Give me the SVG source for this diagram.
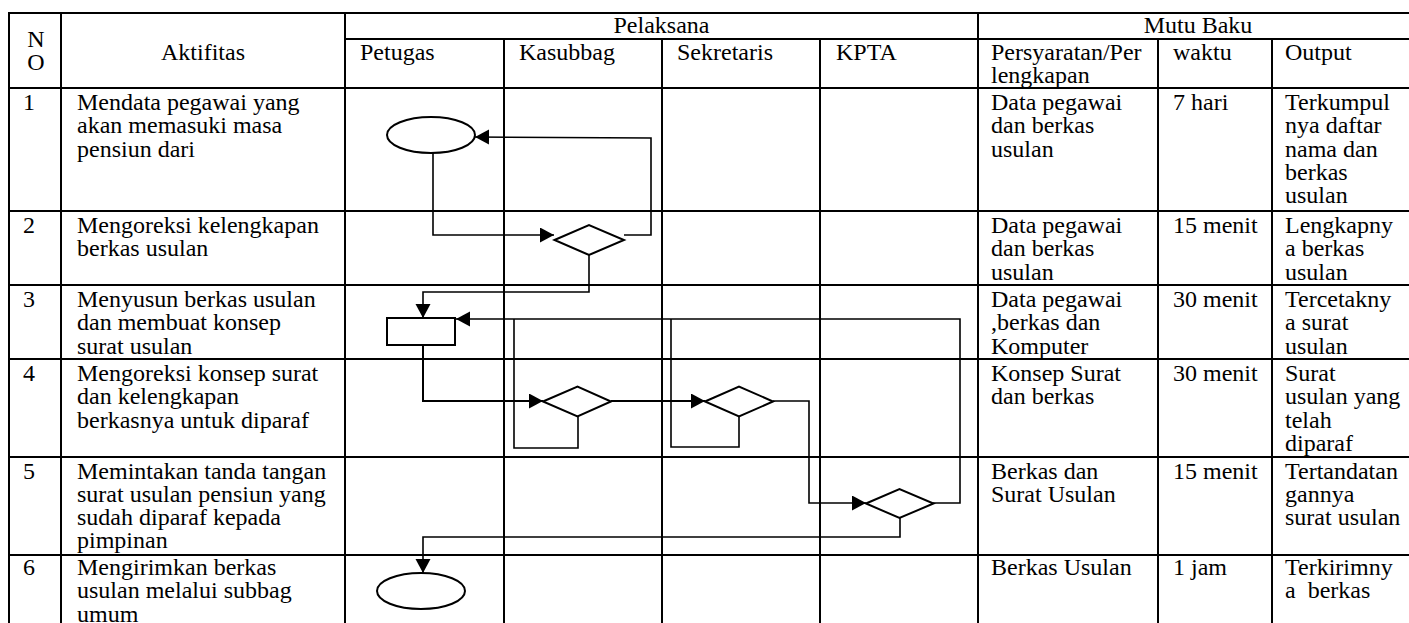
<svg xmlns="http://www.w3.org/2000/svg" width="1409" height="623" viewBox="0 0 1409 623">
<style>
.grid line{stroke:#000;stroke-width:2;}
text{font-family:"Liberation Serif","Times New Roman",serif;font-size:24px;fill:#000;}
.c{text-anchor:middle;}
.pre{white-space:pre;}
.shape{fill:#fff;stroke:#000;stroke-width:2;}
.conn{fill:none;stroke:#000;stroke-width:1.6;}
.arr{marker-end:url(#ah);}
</style>
<defs>
<marker id="ah" markerUnits="userSpaceOnUse" markerWidth="15" markerHeight="16" refX="14" refY="7.5" orient="auto">
<path d="M0,0 L14,7.5 L0,15 Z" fill="#000"/>
</marker>
</defs>
<rect x="0" y="0" width="1409" height="623" fill="#fff"/>
<g id="grid" class="grid">
<line x1="8" y1="13" x2="1409" y2="13"/>
<line x1="345" y1="39" x2="1409" y2="39"/>
<line x1="8" y1="88" x2="1409" y2="88"/>
<line x1="8" y1="211" x2="1409" y2="211"/>
<line x1="8" y1="285" x2="1409" y2="285"/>
<line x1="8" y1="359" x2="1409" y2="359"/>
<line x1="8" y1="457" x2="1409" y2="457"/>
<line x1="8" y1="555" x2="1409" y2="555"/>
<line x1="9" y1="12" x2="9" y2="623"/>
<line x1="61" y1="12" x2="61" y2="623"/>
<line x1="345" y1="12" x2="345" y2="623"/>
<line x1="978" y1="12" x2="978" y2="623"/>
<line x1="504" y1="39" x2="504" y2="623"/>
<line x1="662" y1="39" x2="662" y2="623"/>
<line x1="820" y1="39" x2="820" y2="623"/>
<line x1="1158" y1="39" x2="1158" y2="623"/>
<line x1="1272" y1="39" x2="1272" y2="623"/>
</g>
<g id="header">
<text x="36" y="46.5" class="c">N</text>
<text x="36" y="70" class="c">O</text>
<text x="203" y="60" class="c">Aktifitas</text>
<text x="661.5" y="33" class="c">Pelaksana</text>
<text x="1198" y="33" class="c">Mutu Baku</text>
<text x="360" y="60">Petugas</text>
<text x="519" y="60">Kasubbag</text>
<text x="677" y="60">Sekretaris</text>
<text x="836" y="60">KPTA</text>
<text x="991" y="60">Persyaratan/Per</text>
<text x="991" y="83.3">lengkapan</text>
<text x="1173" y="60">waktu</text>
<text x="1285" y="60">Output</text>
</g>
<g id="row1">
<text x="23" y="110">1</text>
<text x="77" y="110">Mendata pegawai yang</text>
<text x="77" y="133.3">akan memasuki masa</text>
<text x="77" y="156.6">pensiun dari</text>
<text x="991" y="110">Data pegawai</text>
<text x="991" y="133.3">dan berkas</text>
<text x="991" y="156.6">usulan</text>
<text x="1173" y="110">7 hari</text>
<text x="1285" y="110">Terkumpul</text>
<text x="1285" y="133.3">nya daftar</text>
<text x="1285" y="156.6">nama dan</text>
<text x="1285" y="179.9">berkas</text>
<text x="1285" y="203.2">usulan</text>
</g>
<g id="row2">
<text x="23" y="233">2</text>
<text x="77" y="233">Mengoreksi kelengkapan</text>
<text x="77" y="256.3">berkas usulan</text>
<text x="991" y="233">Data pegawai</text>
<text x="991" y="256.3">dan berkas</text>
<text x="991" y="279.6">usulan</text>
<text x="1173" y="233">15 menit</text>
<text x="1285" y="233">Lengkapny</text>
<text x="1285" y="256.3">a berkas</text>
<text x="1285" y="279.6">usulan</text>
</g>
<g id="row3">
<text x="23" y="307">3</text>
<text x="77" y="307">Menyusun berkas usulan</text>
<text x="77" y="330.3">dan membuat konsep</text>
<text x="77" y="353.6">surat usulan</text>
<text x="991" y="307">Data pegawai</text>
<text x="991" y="330.3">,berkas dan</text>
<text x="991" y="353.6">Komputer</text>
<text x="1173" y="307">30 menit</text>
<text x="1285" y="307">Tercetakny</text>
<text x="1285" y="330.3">a surat</text>
<text x="1285" y="353.6">usulan</text>
</g>
<g id="row4">
<text x="23" y="381">4</text>
<text x="77" y="381">Mengoreksi konsep surat</text>
<text x="77" y="404.3">dan kelengkapan</text>
<text x="77" y="427.6">berkasnya untuk diparaf</text>
<text x="991" y="381">Konsep Surat</text>
<text x="991" y="404.3">dan berkas</text>
<text x="1173" y="381">30 menit</text>
<text x="1285" y="381">Surat</text>
<text x="1285" y="404.3">usulan yang</text>
<text x="1285" y="427.6">telah</text>
<text x="1285" y="450.9">diparaf</text>
</g>
<g id="row5">
<text x="23" y="478.5">5</text>
<text x="77" y="478.5">Memintakan tanda tangan</text>
<text x="77" y="501.8">surat usulan pensiun yang</text>
<text x="77" y="525.1">sudah diparaf kepada</text>
<text x="77" y="548.4">pimpinan</text>
<text x="991" y="478.5">Berkas dan</text>
<text x="991" y="501.8">Surat Usulan</text>
<text x="1173" y="478.5">15 menit</text>
<text x="1285" y="478.5">Tertandatan</text>
<text x="1285" y="501.8">gannya</text>
<text x="1285" y="525.1">surat usulan</text>
</g>
<g id="row6">
<text x="23" y="575">6</text>
<text x="77" y="575">Mengirimkan berkas</text>
<text x="77" y="598.3">usulan melalui subbag</text>
<text x="77" y="621.6">umum</text>
<text x="991" y="575">Berkas Usulan</text>
<text x="1173" y="575">1 jam</text>
<text x="1285" y="575">Terkirimny</text>
<text x="1285" y="598.3" class="pre">a  berkas</text>
</g>
<g id="connectors">
<polyline class="conn arr" points="433,153 433,235 554,235"/>
<polyline class="conn arr" points="624,235 651,235 651,138 475,137"/>
<polyline class="conn arr" points="589,255 589,292 423,292 423,318"/>
<polyline class="conn arr" points="423,345 423,401 543,401" style="stroke-width:2"/>
<polyline class="conn arr" points="611,401 705,401" style="stroke-width:2"/>
<polyline class="conn" points="578,417 578,448 514,448 514,319"/>
<polyline class="conn" points="739,417 739,447 671,447 671,319"/>
<polyline class="conn arr" points="933,503 960,503 960,319 456,319"/>
<polyline class="conn arr" points="773,401 809,401 809,503 866,503"/>
<polyline class="conn arr" points="900,518 900,537 423,537 423,573"/>
</g>
<g id="start">
<ellipse class="shape" cx="431" cy="135" rx="44" ry="18"/>
</g>
<g id="check1">
<polygon class="shape" points="554.5,240 589,225 624,240 589,255"/>
</g>
<g id="compose">
<rect class="shape" x="387" y="318" width="68" height="27"/>
</g>
<g id="check2">
<polygon class="shape" points="543,401.5 577.5,386.5 611,401.5 577.5,416.5"/>
</g>
<g id="check3">
<polygon class="shape" points="705,401.5 739,386.5 773,401.5 739,416.5"/>
</g>
<g id="sign">
<polygon class="shape" points="866,503.5 899.5,489 933.5,503.5 899.5,518"/>
</g>
<g id="end">
<ellipse class="shape" cx="421" cy="591" rx="44" ry="18"/>
</g>
</svg>
